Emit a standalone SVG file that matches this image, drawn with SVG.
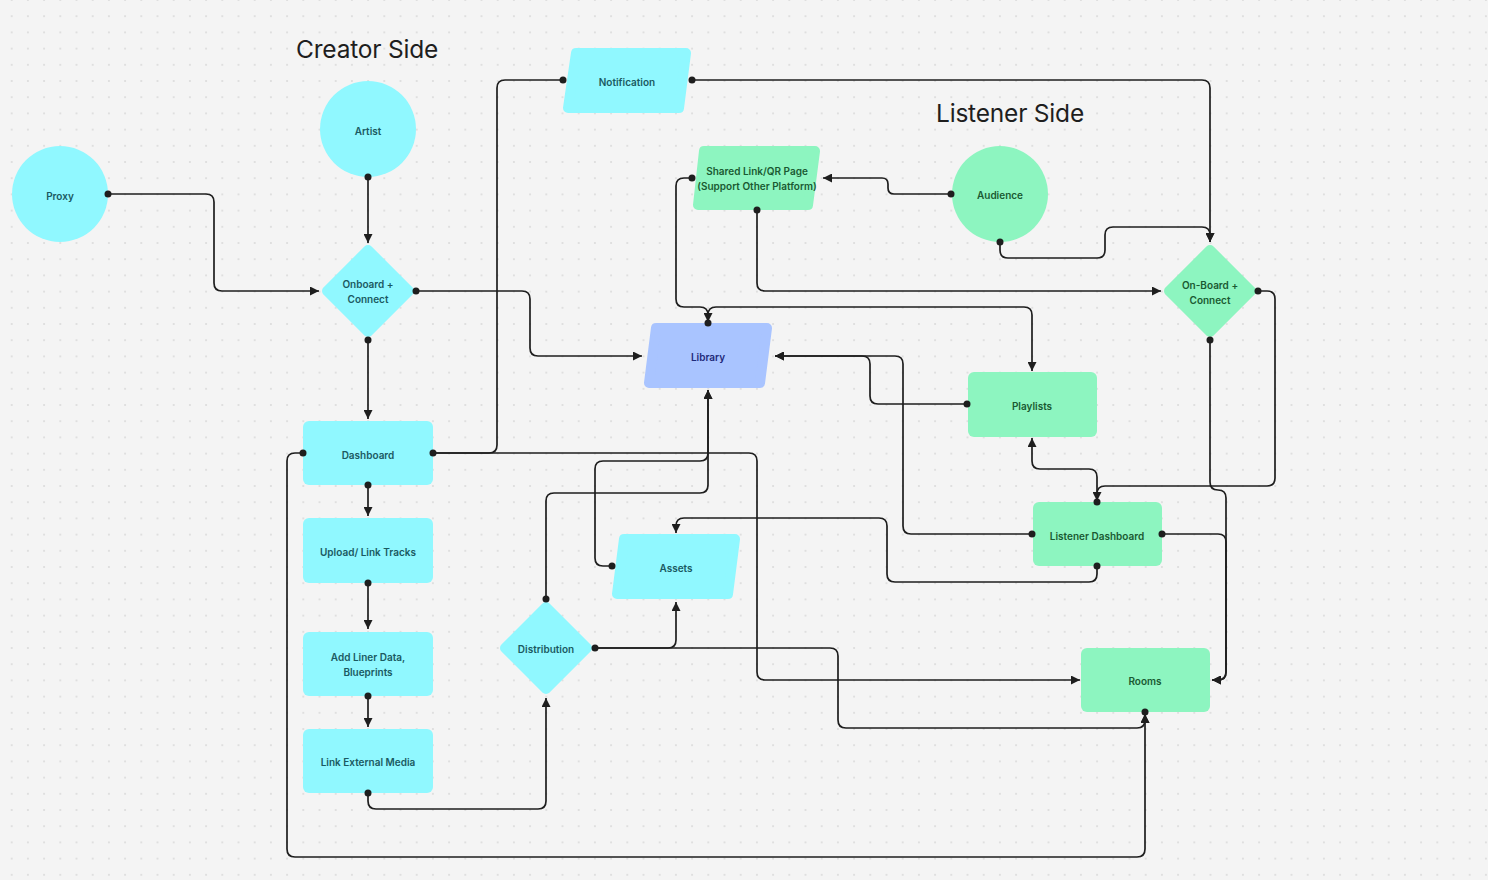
<svg xmlns="http://www.w3.org/2000/svg" width="1488" height="880" viewBox="0 0 1488 880">
<defs>
<pattern id="grid" x="11.7" y="0" width="16.2" height="16.2" patternUnits="userSpaceOnUse">
<circle cx="0" cy="0" r="0.9" fill="#d6d6d6"/>
<circle cx="16.2" cy="0" r="0.9" fill="#d6d6d6"/>
<circle cx="0" cy="16.2" r="0.9" fill="#d6d6d6"/>
<circle cx="16.2" cy="16.2" r="0.9" fill="#d6d6d6"/>
</pattern>
<marker id="arrow" viewBox="0 0 10 10" refX="10" refY="5" markerWidth="9" markerHeight="9" markerUnits="userSpaceOnUse" orient="auto">
<path d="M0,0 L10,5 L0,10 z" fill="#1e1e1e"/>
</marker>
</defs>
<style>
.cyan{fill:#90F8FF;}
.green{fill:#8DF5C0;}
.blue{fill:#A9C4FF;}
.pg-cyan{fill:#90F8FF;stroke:#90F8FF;stroke-width:10;stroke-linejoin:round;}
.pg-green{fill:#8DF5C0;stroke:#8DF5C0;stroke-width:10;stroke-linejoin:round;}
.pg-blue{fill:#A9C4FF;stroke:#A9C4FF;stroke-width:10;stroke-linejoin:round;}
.lbl{font-family:Inter,"Liberation Sans",sans-serif;font-size:10px;font-weight:600;text-anchor:middle;}
.tc{fill:#1b5a62;}
.tg{fill:#1a5a32;}
.tb{fill:#1f2a7a;}
.title{font-family:Inter,"Liberation Sans",sans-serif;font-size:24.5px;letter-spacing:-0.2px;fill:#1e1e1e;}
.conn path{fill:none;stroke:#1e1e1e;stroke-width:1.7;}
.conn circle{fill:#1e1e1e;}
.e{marker-end:url(#arrow);}
</style>
<rect width="1488" height="880" fill="#f4f4f4"/>
<rect width="1488" height="880" fill="url(#grid)"/>

<text class="title" x="296" y="58">Creator Side</text>
<text class="title" x="936" y="122">Listener Side</text>

<g id="proxy"><circle class="cyan" cx="60" cy="194" r="48"/><text class="lbl tc" x="60" y="199.5">Proxy</text></g>
<g id="artist"><circle class="cyan" cx="368" cy="129" r="48"/><text class="lbl tc" x="368" y="134.5">Artist</text></g>
<g id="onboard"><rect class="cyan" x="-34" y="-34" width="68" height="68" rx="5" transform="translate(368,291) rotate(45)"/><text class="lbl tc" x="368" y="288">Onboard +</text><text class="lbl tc" x="368" y="303">Connect</text></g>
<g id="dashboard"><rect class="cyan" x="303" y="421" width="130" height="64" rx="6"/><text class="lbl tc" x="368" y="458.5">Dashboard</text></g>
<g id="upload"><rect class="cyan" x="303" y="518" width="130" height="65" rx="6"/><text class="lbl tc" x="368" y="556">Upload/ Link Tracks</text></g>
<g id="liner"><rect class="cyan" x="303" y="632" width="130" height="64" rx="6"/><text class="lbl tc" x="368" y="661">Add Liner Data,</text><text class="lbl tc" x="368" y="676">Blueprints</text></g>
<g id="external"><rect class="cyan" x="303" y="729" width="130" height="64" rx="6"/><text class="lbl tc" x="368" y="766">Link External Media</text></g>
<g id="distribution"><rect class="cyan" x="-34" y="-34" width="68" height="68" rx="5" transform="translate(546,648) rotate(45)"/><text class="lbl tc" x="546" y="653">Distribution</text></g>
<g id="notification"><polygon class="pg-cyan" points="576,53 686,53 679,108 568,108"/><text class="lbl tc" x="627" y="86">Notification</text></g>
<g id="assets"><polygon class="pg-cyan" points="624,539 735,539 728,594 617,594"/><text class="lbl tc" x="676" y="572">Assets</text></g>
<g id="library"><polygon class="pg-blue" points="656,328 767,328 760,383 649,383"/><text class="lbl tb" x="708" y="361">Library</text></g>
<g id="shared"><polygon class="pg-green" points="704,151 815,151 808,205 698,205"/><text class="lbl tg" x="757" y="175">Shared Link/QR Page</text><text class="lbl tg" x="757" y="189.5">(Support Other Platform)</text></g>
<g id="audience"><circle class="green" cx="1000" cy="194" r="48"/><text class="lbl tg" x="1000" y="199">Audience</text></g>
<g id="onboard2"><rect class="green" x="-34" y="-34" width="68" height="68" rx="5" transform="translate(1210,291) rotate(45)"/><text class="lbl tg" x="1210" y="288.5">On-Board +</text><text class="lbl tg" x="1210" y="303.5">Connect</text></g>
<g id="playlists"><rect class="green" x="968" y="372" width="129" height="65" rx="6"/><text class="lbl tg" x="1032" y="410">Playlists</text></g>
<g id="listenerdash"><rect class="green" x="1033" y="502" width="129" height="64" rx="6"/><text class="lbl tg" x="1097" y="539.5">Listener Dashboard</text></g>
<g id="rooms"><rect class="green" x="1081" y="648" width="129" height="64" rx="6"/><text class="lbl tg" x="1145" y="685">Rooms</text></g>

<g id="connectors" class="conn">
<path class="e" d="M108,194 H206 Q214,194 214,202 V283 Q214,291 222,291 H319"/>
<path class="e" d="M368,177 V243"/>
<path class="e" d="M368,340 V419"/>
<path class="e" d="M416,291 H522 Q530,291 530,299 V348 Q530,356 538,356 H642"/>
<path d="M563,80 H505 Q497,80 497,88 V445 Q497,453 489,453 H433"/>
<path class="e" d="M433,453 H749 Q757,453 757,461 V672 Q757,680 765,680 H1080"/>
<path class="e" d="M303,453 H295 Q287,453 287,461 V849 Q287,857 295,857 H1137 Q1145,857 1145,849 V714"/>
<path class="e" d="M368,485 V516"/>
<path class="e" d="M368,583 V629"/>
<path class="e" d="M368,696 V727"/>
<path class="e" d="M368,793 V801 Q368,809 376,809 H538 Q546,809 546,801 V698"/>
<path class="e" d="M546,599 V501 Q546,493 554,493 H700 Q708,493 708,485 V390"/>
<path class="e" d="M612,566 H603 Q595,566 595,558 V469 Q595,461 603,461 H700 Q708,461 708,453 V390"/>
<path class="e" d="M595,648 H668 Q676,648 676,640 V602"/>
<path class="e" d="M595,648 H830 Q838,648 838,656 V720 Q838,728 846,728 H1137 Q1145,728 1145,720 V714"/>
<path class="e" d="M692,80 H1202 Q1210,80 1210,88 V242"/>
<path class="e" d="M951,194 H894 Q888,194 888,188 V184 Q888,178 882,178 H823"/>
<path class="e" d="M1000,242 V250 Q1000,258 1008,258 H1097 Q1105,258 1105,250 V235 Q1105,227 1113,227 H1202 Q1210,227 1210,235 V242"/>
<path class="e" d="M757,210 V283 Q757,291 765,291 H1161"/>
<path class="e" d="M692,178 H684 Q676,178 676,186 V299 Q676,307 684,307 H700 Q708,307 708,315 V322"/>
<path class="e" d="M708,323 V315 Q708,307 716,307 H1024 Q1032,307 1032,315 V371"/>
<path class="e" d="M967,404 H878 Q870,404 870,396 V364 Q870,356 862,356 H775"/>
<path class="e" d="M1032,534 H911 Q903,534 903,526 V364 Q903,356 895,356 H775"/>
<path class="e" d="M1097,502 V477 Q1097,469 1089,469 H1040 Q1032,469 1032,461 V438"/>
<path class="e" d="M1258,291 H1267 Q1275,291 1275,299 V478 Q1275,486 1267,486 H1105 Q1097,486 1097,494 V501"/>
<path class="e" d="M1210,340 V482 Q1210,490 1218,490 Q1226,490 1226,498 V672 Q1226,680 1218,680 H1212"/>
<path class="e" d="M1162,534 H1218 Q1226,534 1226,542 V672 Q1226,680 1218,680 H1212"/>
<path class="e" d="M1097,566 V574 Q1097,582 1089,582 H895 Q887,582 887,574 V526 Q887,518 879,518 H684 Q676,518 676,526 V533"/>
<circle cx="108" cy="194" r="3.5"/>
<circle cx="368" cy="177" r="3.5"/>
<circle cx="368" cy="340" r="3.5"/>
<circle cx="416" cy="291" r="3.5"/>
<circle cx="563" cy="80" r="3.5"/>
<circle cx="433" cy="453" r="3.5"/>
<circle cx="303" cy="453" r="3.5"/>
<circle cx="368" cy="485" r="3.5"/>
<circle cx="368" cy="583" r="3.5"/>
<circle cx="368" cy="696" r="3.5"/>
<circle cx="368" cy="793" r="3.5"/>
<circle cx="546" cy="599" r="3.5"/>
<circle cx="612" cy="566" r="3.5"/>
<circle cx="595" cy="648" r="3.5"/>
<circle cx="692" cy="80" r="3.5"/>
<circle cx="951" cy="194" r="3.5"/>
<circle cx="1000" cy="242" r="3.5"/>
<circle cx="757" cy="210" r="3.5"/>
<circle cx="692" cy="178" r="3.5"/>
<circle cx="708" cy="323" r="3.5"/>
<circle cx="967" cy="404" r="3.5"/>
<circle cx="1032" cy="534" r="3.5"/>
<circle cx="1097" cy="502" r="3.5"/>
<circle cx="1258" cy="291" r="3.5"/>
<circle cx="1210" cy="340" r="3.5"/>
<circle cx="1162" cy="534" r="3.5"/>
<circle cx="1097" cy="566" r="3.5"/>
<circle cx="1145" cy="712" r="3.5"/>
</g>
</svg>
